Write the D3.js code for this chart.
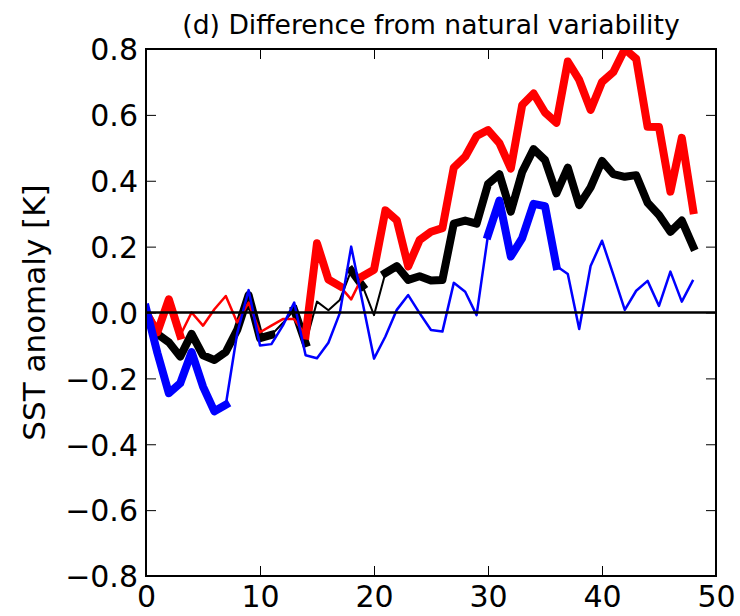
<!DOCTYPE html>
<html lang="en">

<head>
    <meta charset="UTF-8">
    <title>Difference from natural variability</title>
    <script src="https://d3js.org/d3.v7.min.js"></script>
    <style>
        body { margin: 0; background: #fff; }
        text { font-family: "DejaVu Sans", sans-serif; }
    </style>
</head>

<body>
    <div id="chart"></div>
    <script>
        // lag (x axis)
        const lags = [0, 1, 2, 3, 4, 5, 6, 7, 8, 9, 10, 11, 12, 13, 14, 15, 16, 17, 18, 19, 20, 21, 22, 23, 24,
            25, 26, 27, 28, 29, 30, 31, 32, 33, 34, 35, 36, 37, 38, 39, 40, 41, 42, 43, 44, 45, 46, 47, 48];

        // SST anomaly [K]
        const redValues = [0.0, -0.06, 0.04, -0.07, 0.0, -0.04, 0.01, 0.05, -0.03, 0.03, -0.06, -0.04, -0.02, -0.02,
            -0.07, 0.21, 0.10, 0.08, 0.04, 0.11, 0.13, 0.31, 0.28, 0.14, 0.22, 0.245, 0.256, 0.44, 0.473, 0.536,
            0.554, 0.514, 0.437, 0.63, 0.665, 0.607, 0.576, 0.762, 0.706, 0.615, 0.70, 0.73, 0.80, 0.77, 0.564,
            0.563, 0.367, 0.53, 0.311];
        const blackValues = [0.0, -0.065, -0.09, -0.134, -0.065, -0.13, -0.144, -0.12, -0.053, 0.053, -0.078,
            -0.068, -0.032, 0.008, -0.093, 0.033, 0.007, 0.038, 0.127, 0.08, -0.008, 0.12, 0.141, 0.099, 0.11,
            0.097, 0.099, 0.27, 0.279, 0.27, 0.39, 0.42, 0.306, 0.427, 0.496, 0.463, 0.362, 0.44, 0.326, 0.38,
            0.46, 0.42, 0.412, 0.417, 0.333, 0.296, 0.245, 0.279, 0.2];
        const blueValues = [0.014, -0.123, -0.245, -0.215, -0.12, -0.225, -0.30, -0.28, -0.063, 0.068, -0.1,
            -0.096, -0.04, 0.03, -0.13, -0.139, -0.092, -0.002, 0.2, 0.03, -0.14, -0.073, 0.008, 0.053, -0.002,
            -0.053, -0.058, 0.09, 0.063, -0.008, 0.235, 0.34, 0.17, 0.226, 0.33, 0.323, 0.141, 0.117, -0.05,
            0.141, 0.218, 0.114, 0.008, 0.066, 0.096, 0.02, 0.124, 0.033, 0.099];

        // 1 = significant (drawn thick)
        const redSig = [1, 1, 1, 1, 0, 0, 0, 0, 0, 0, 0, 0, 0, 0, 1, 1, 1, 1, 0, 1, 1, 1, 1, 1, 1,
            1, 1, 1, 1, 1, 1, 1, 1, 1, 1, 1, 1, 1, 1, 1, 1, 1, 1, 1, 1, 1, 1, 1, 1];
        const blackSig = [1, 1, 1, 1, 1, 1, 1, 1, 1, 1, 1, 1, 0, 1, 1, 0, 0, 0, 1, 1, 0, 1, 1, 1, 1,
            1, 1, 1, 1, 1, 1, 1, 1, 1, 1, 1, 1, 1, 1, 1, 1, 1, 1, 1, 1, 1, 1, 1, 1];
        const blueSig = [1, 1, 1, 1, 1, 1, 1, 1, 0, 0, 0, 0, 0, 0, 0, 0, 0, 0, 0, 0, 0, 0, 0, 0, 0,
            0, 0, 0, 0, 0, 1, 1, 1, 1, 1, 1, 1, 0, 0, 0, 0, 0, 0, 0, 0, 0, 0, 0, 0];

        const xTicks = [0, 10, 20, 30, 40, 50];
        const yTicks = [-0.8, -0.6, -0.4, -0.2, 0.0, 0.2, 0.4, 0.6, 0.8];

        const titleText = "(d) Difference from natural variability";
        const yLabelText = "SST anomaly [K]";

        // chart setup
        const W = 740, H = 616;
        const margin = { top: 49, right: 24, bottom: 40, left: 146 };
        const width = W - margin.left - margin.right;
        const height = H - margin.top - margin.bottom;

        const xScale = d3.scaleLinear().domain([0, 50]).range([0, width]);
        const yScale = d3.scaleLinear().domain([-0.8, 0.8]).range([height, 0]);

        const svg = d3.select("#chart")
            .append("svg")
            .attr("width", W)
            .attr("height", H);

        const g = svg.append("g")
            .attr("transform", "translate(" + margin.left + "," + margin.top + ")");

        svg.append("defs").append("clipPath")
            .attr("id", "plot-clip")
            .append("rect")
            .attr("width", width)
            .attr("height", height);

        const series = [
            { color: "black", values: blackValues, sig: blackSig, thin: 2 },
            { color: "red", values: redValues, sig: redSig, thin: 2.5 },
            { color: "blue", values: blueValues, sig: blueSig, thin: 2.5 }
        ];

        const lines = g.append("g").attr("clip-path", "url(#plot-clip)");

        series.forEach(s => {
            const pts = lags.map((lag, i) => ({ lag: lag, v: s.values[i], sig: s.sig[i] === 1 }));

            const thinLine = d3.line()
                .x(d => xScale(d.lag))
                .y(d => yScale(d.v));
            // thick only between consecutive significant points
            const thickLine = d3.line()
                .defined(d => d.sig)
                .x(d => xScale(d.lag))
                .y(d => yScale(d.v));

            lines.append("path")
                .datum(pts)
                .attr("fill", "none")
                .attr("stroke", s.color)
                .attr("stroke-width", s.thin)
                .attr("stroke-linejoin", "round")
                .attr("d", thinLine);

            lines.append("path")
                .datum(pts)
                .attr("fill", "none")
                .attr("stroke", s.color)
                .attr("stroke-width", 8)
                .attr("stroke-linejoin", "round")
                .attr("stroke-linecap", "square")
                .attr("d", thickLine);
        });

        // zero line
        g.append("line")
            .attr("x1", 0).attr("x2", width)
            .attr("y1", yScale(0)).attr("y2", yScale(0))
            .attr("stroke", "black")
            .attr("stroke-width", 2.5);

        // axes, ticks pointing inward on all four sides
        const fmtY = d3.format(".1f");

        const xAxis = g.append("g")
            .attr("transform", "translate(0," + height + ")")
            .call(d3.axisBottom(xScale).tickValues(xTicks).tickSizeInner(-10).tickSizeOuter(0).tickPadding(8));
        const xTop = g.append("g")
            .call(d3.axisTop(xScale).tickValues(xTicks).tickSizeInner(-10).tickSizeOuter(0).tickFormat(""));
        const yAxis = g.append("g")
            .call(d3.axisLeft(yScale).tickValues(yTicks).tickFormat(fmtY).tickSizeInner(-10).tickSizeOuter(0).tickPadding(8));
        const yRight = g.append("g")
            .attr("transform", "translate(" + width + ",0)")
            .call(d3.axisRight(yScale).tickValues(yTicks).tickSizeInner(-10).tickSizeOuter(0).tickFormat(""));

        [xAxis, xTop, yAxis, yRight].forEach(a => {
            a.select(".domain").remove();
            a.selectAll(".tick line").attr("stroke", "black").attr("stroke-width", 1);
            a.selectAll(".tick text")
                .attr("fill", "black")
                .style("font-size", "30px")
                .style("font-family", "'DejaVu Sans', sans-serif");
        });
        xAxis.selectAll(".tick text").attr("dy", "0.78em");
        yAxis.selectAll(".tick text").attr("dy", "0.36em");

        // frame
        g.append("rect")
            .attr("width", width)
            .attr("height", height)
            .attr("fill", "none")
            .attr("stroke", "black")
            .attr("stroke-width", 2);

        // title and y label
        svg.append("text")
            .attr("x", margin.left + width / 2)
            .attr("y", 34)
            .attr("text-anchor", "middle")
            .style("font-size", "26.6px")
            .text(titleText);

        svg.append("text")
            .attr("transform", "translate(45," + (margin.top + height / 2) + ") rotate(-90)")
            .attr("text-anchor", "middle")
            .style("font-size", "31px")
            .text(yLabelText);
    </script>
</body>

</html>
